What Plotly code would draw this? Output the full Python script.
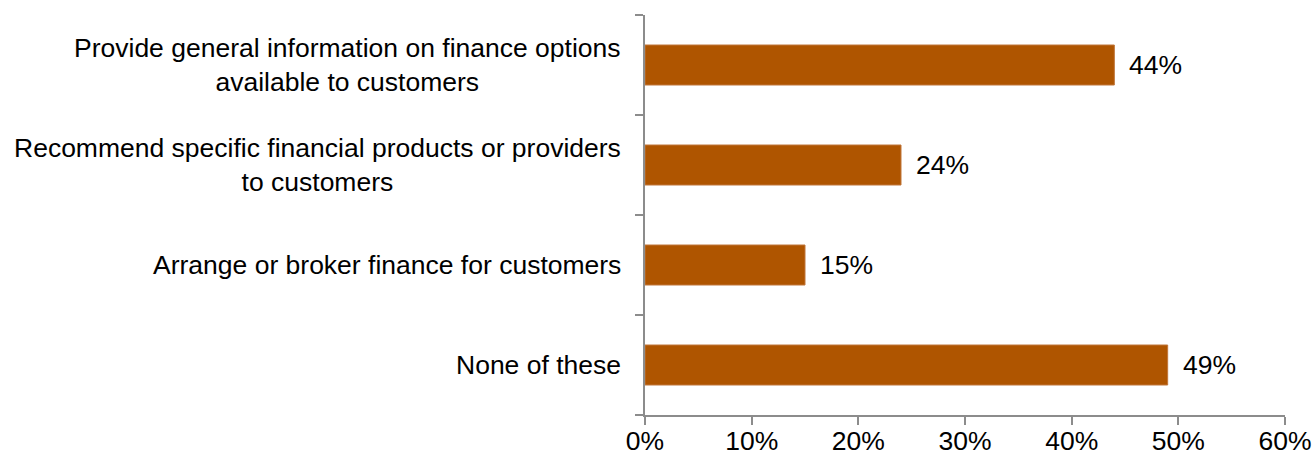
import plotly.graph_objects as go

categories = [
    "Provide general information on finance options<br>available to customers",
    "Recommend specific financial products or providers<br>to customers",
    "Arrange or broker finance for customers",
    "None of these",
]
values = [44, 24, 15, 49]
x_ticks = [0, 10, 20, 30, 40, 50, 60]
x_tick_labels = [f"{v}%" for v in x_ticks]

BAR = "#AF5500"
AXIS = "#8C8C8C"
FONT = "Liberation Sans, Arial, sans-serif"
SIZE = 26.5

fig = go.Figure(
    go.Bar(
        x=values,
        y=categories,
        orientation="h",
        marker=dict(color=BAR, line=dict(color="#C0763A", width=1)),
        width=0.4,
        hoverinfo="skip",
    )
)

annotations = []
for cat, val in zip(categories, values):
    # value label to the right of each bar
    annotations.append(dict(
        x=val, y=cat, xref="x", yref="y", text=f"{val}%",
        showarrow=False, xanchor="left", xshift=13,
        font=dict(family=FONT, size=SIZE, color="#000000"),
    ))
    # category label, centred lines, right edge near the axis
    annotations.append(dict(
        x=0, y=cat, xref="paper", yref="y", text=cat,
        showarrow=False, xanchor="right", xshift=-22, align="center",
        font=dict(family=FONT, size=SIZE, color="#000000"),
    ))

fig.update_layout(
    width=1316, height=456,
    margin=dict(l=645, r=31, t=15, b=41),
    paper_bgcolor="white", plot_bgcolor="white",
    showlegend=False,
    annotations=annotations,
    font=dict(family=FONT, size=SIZE, color="#000000"),
)
fig.update_xaxes(
    range=[0, 60], tickvals=x_ticks, ticktext=x_tick_labels,
    showgrid=False, zeroline=False, automargin=False,
    showline=True, linecolor=AXIS, linewidth=2,
    ticks="outside", ticklen=8, tickwidth=2, tickcolor=AXIS,
    ticklabelstandoff=-7,
    tickfont=dict(family=FONT, size=SIZE, color="#000000"),
    fixedrange=True,
)
fig.update_yaxes(
    categoryorder="array", categoryarray=categories[::-1],
    showticklabels=False, showgrid=False, zeroline=False, automargin=False,
    showline=True, linecolor=AXIS, linewidth=2,
    ticks="outside", ticklen=8, tickwidth=2, tickcolor=AXIS,
    tickson="boundaries", fixedrange=True,
)

fig.write_html("out.html")
